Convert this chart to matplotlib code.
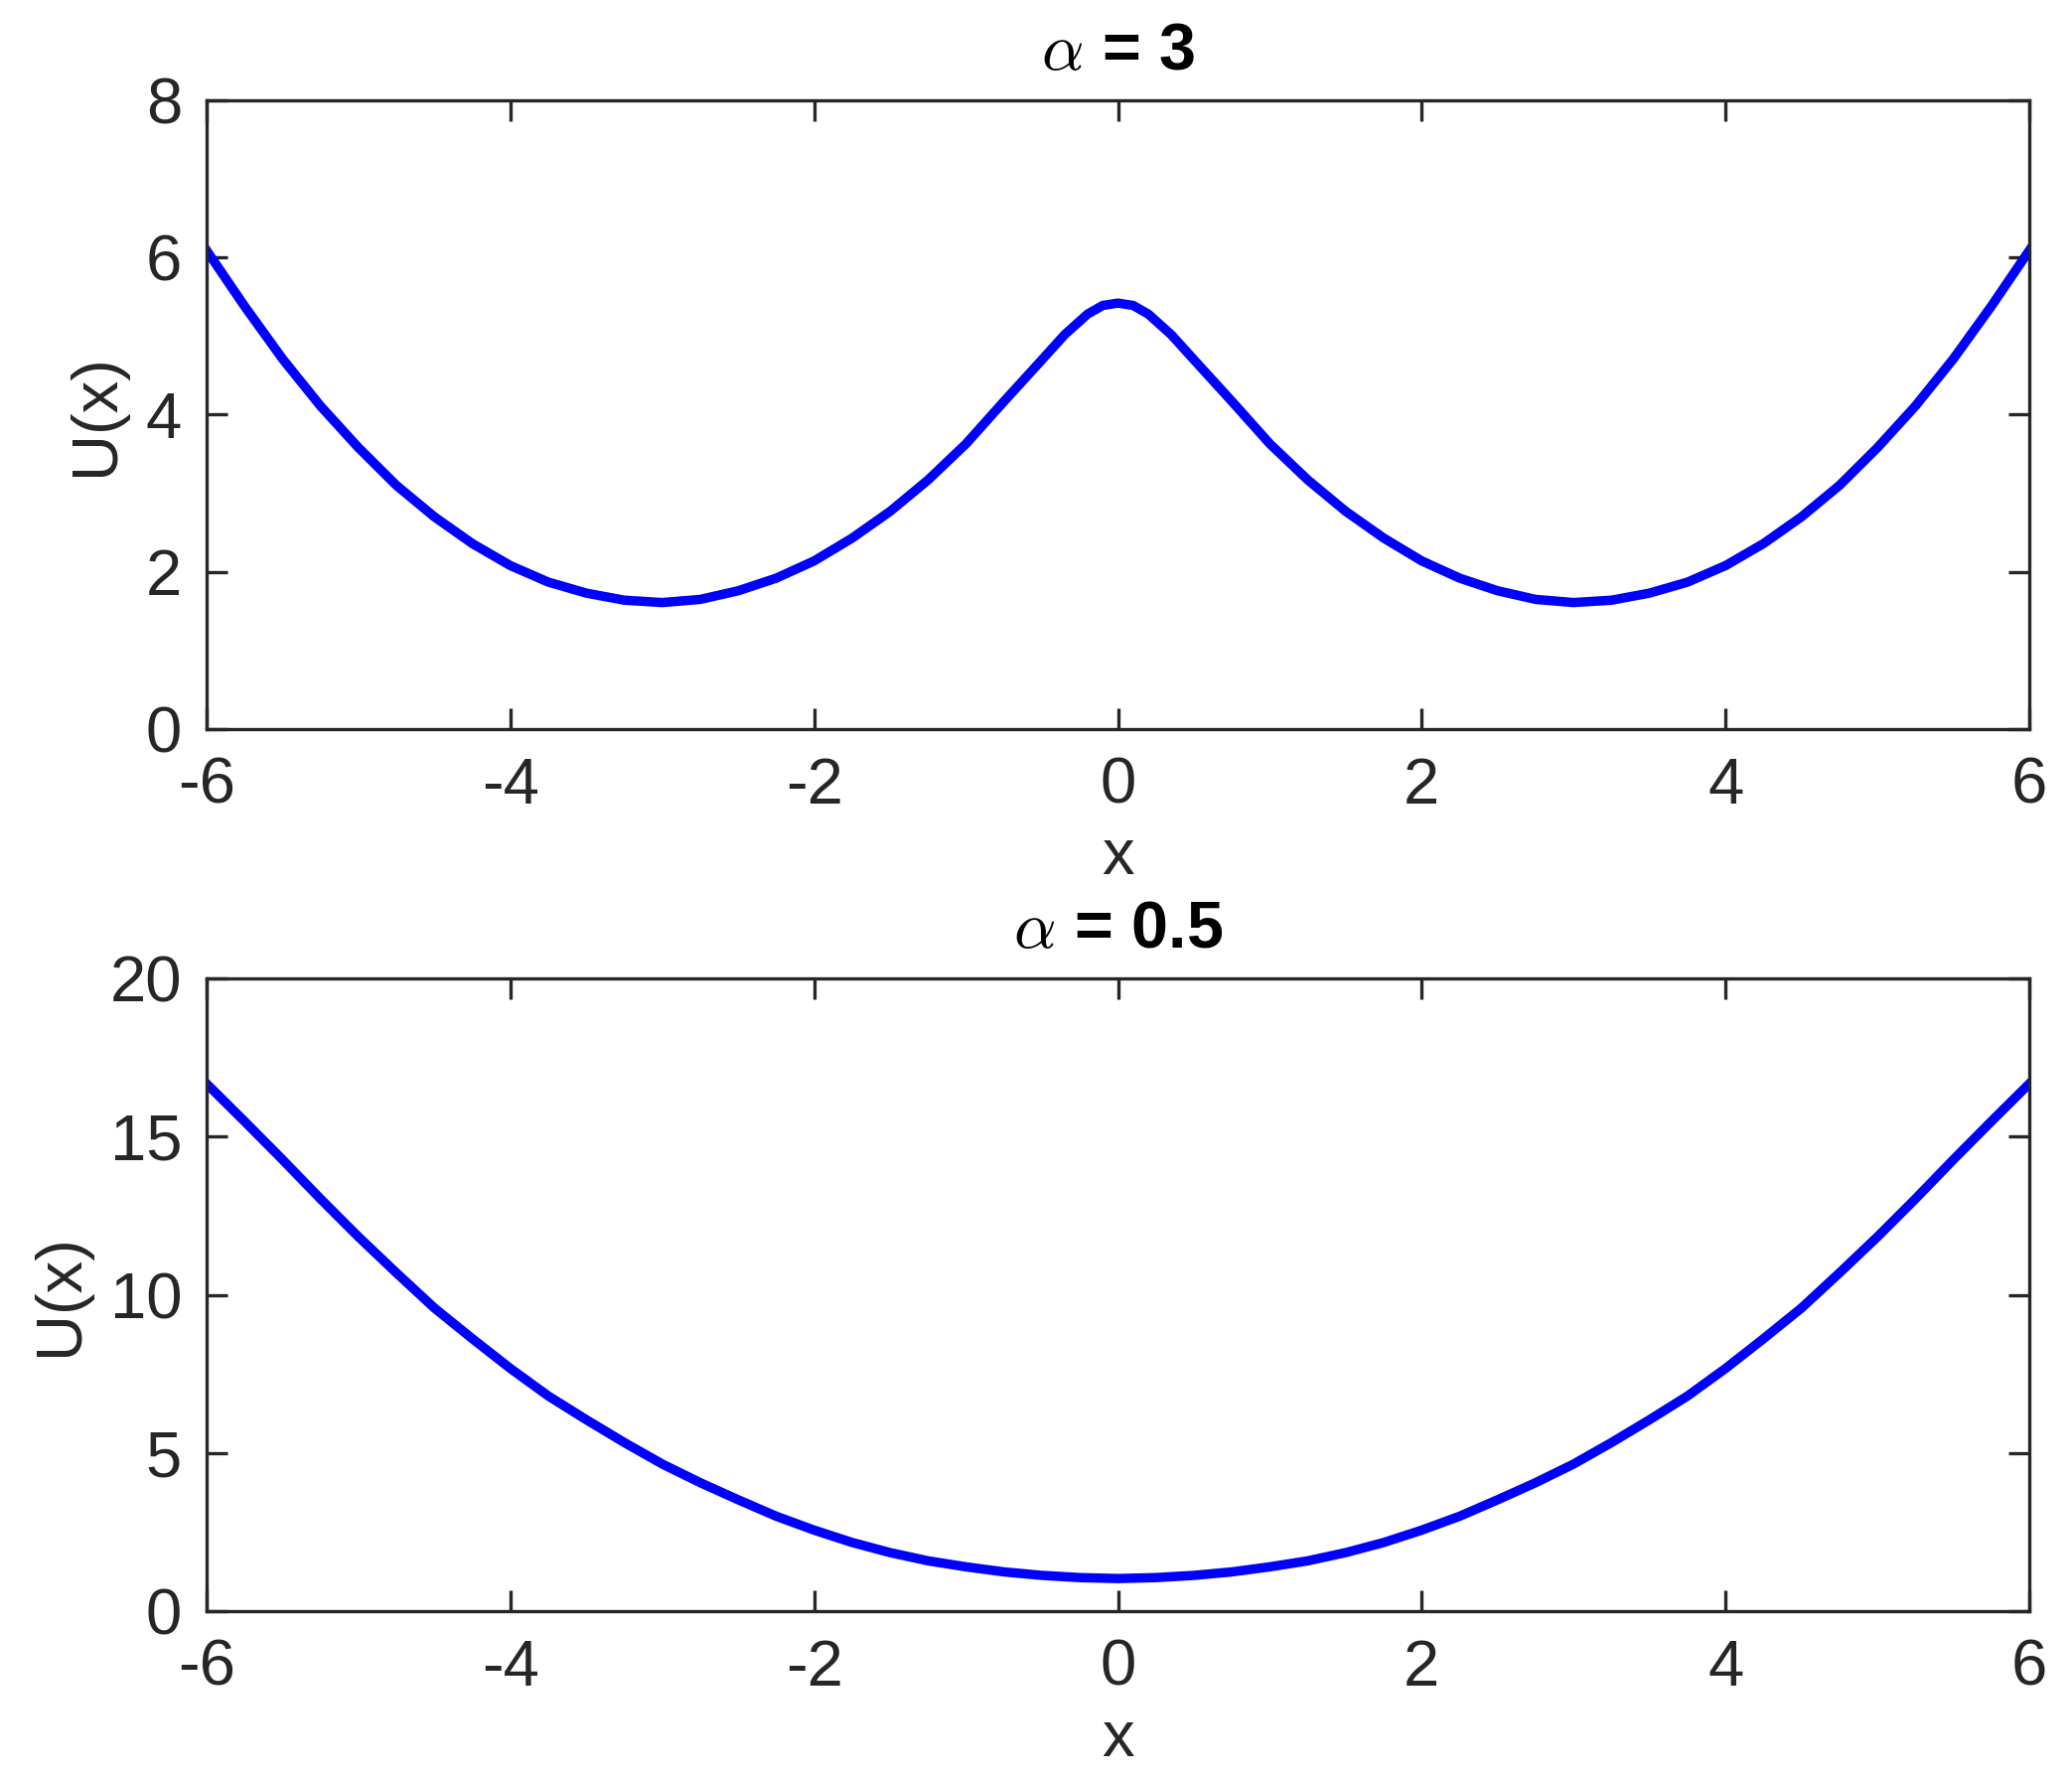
import numpy as np
import matplotlib
matplotlib.use("Agg")
from matplotlib import pyplot as plt

# valores: alpha = 3 (poço duplo)
x_a3 = [-6.0, -5.75, -5.5, -5.25, -5.0, -4.75, -4.5, -4.25, -4.0, -3.75, -3.5, -3.25,
        -3.0, -2.75, -2.5, -2.25, -2.0, -1.75, -1.5, -1.25, -1.0, -0.75, -0.5, -0.35,
        -0.2, -0.1, 0.0, 0.1, 0.2, 0.35, 0.5, 0.75, 1.0, 1.25, 1.5, 1.75, 2.0, 2.25,
        2.5, 2.75, 3.0, 3.25, 3.5, 3.75, 4.0, 4.25, 4.5, 4.75, 5.0, 5.25, 5.5, 5.75, 6.0]
u_a3 = [6.09, 5.38, 4.71, 4.11, 3.58, 3.10, 2.70, 2.36, 2.08, 1.87, 1.73, 1.64,
        1.61, 1.65, 1.76, 1.92, 2.14, 2.43, 2.77, 3.17, 3.63, 4.17, 4.70, 5.02,
        5.28, 5.39, 5.42, 5.39, 5.28, 5.02, 4.70, 4.17, 3.63, 3.17, 2.77, 2.43, 2.14, 1.92,
        1.76, 1.65, 1.61, 1.64, 1.73, 1.87, 2.08, 2.36, 2.70, 3.10, 3.58, 4.11, 4.71, 5.38, 6.09]

# alpha = 0.5 (poço simples)
x_a05 = [-6.0, -5.75, -5.5, -5.25, -5.0, -4.75, -4.5, -4.25, -4.0, -3.75, -3.5, -3.25,
         -3.0, -2.75, -2.5, -2.25, -2.0, -1.75, -1.5, -1.25, -1.0, -0.75, -0.5, -0.25,
         0.0, 0.25, 0.5, 0.75, 1.0, 1.25, 1.5, 1.75, 2.0, 2.25, 2.5, 2.75, 3.0, 3.25,
         3.5, 3.75, 4.0, 4.25, 4.5, 4.75, 5.0, 5.25, 5.5, 5.75, 6.0]
u_a05 = [16.67, 15.48, 14.27, 13.03, 11.83, 10.69, 9.58, 8.61, 7.67, 6.80, 6.05, 5.33,
         4.65, 4.06, 3.52, 3.00, 2.56, 2.17, 1.85, 1.59, 1.40, 1.24, 1.13, 1.06,
         1.03, 1.06, 1.13, 1.24, 1.40, 1.59, 1.85, 2.17, 2.56, 3.00, 3.52, 4.06, 4.65, 5.33,
         6.05, 6.80, 7.67, 8.61, 9.58, 10.69, 11.83, 13.03, 14.27, 15.48, 16.67]

alphas = ["3", "0.5"]
yticks = [[0, 2, 4, 6, 8], [0, 5, 10, 15, 20]]
xticks = [-6, -4, -2, 0, 2, 4, 6]

plt.rcParams['font.family'] = ['Liberation Sans', 'DejaVu Sans']
plt.rcParams['mathtext.fontset'] = 'cm'
cinza = '#262626'
fs = 23.5

W, H = 2086, 1791
fig = plt.figure(figsize=(W / 200, H / 200), dpi=200)

posicoes = [(208, 101, 2043, 734), (208, 985, 2043, 1622)]
dados = [(x_a3, u_a3), (x_a05, u_a05)]

for (l, t, r, b), (x, u), alpha, yt in zip(posicoes, dados, alphas, yticks):
    ax = fig.add_axes([l / W, 1 - b / H, (r - l) / W, (b - t) / H])
    ax.plot(x, u, color=(0, 0, 1), linewidth=3.4, solid_joinstyle='round')
    ax.set_xlim(-6, 6)
    ax.set_ylim(yt[0], yt[-1])
    ax.set_xticks(xticks)
    ax.set_yticks(yt)
    ax.set_xticklabels([str(v) for v in xticks])
    ax.tick_params(direction='in', length=7.5, width=1.2, colors=cinza,
                   labelsize=fs, top=True, right=True, pad=9)
    ax.tick_params(axis='x', pad=10)
    for s in ax.spines.values():
        s.set_linewidth(1.2)
        s.set_color(cinza)
    ax.set_xlabel('x', fontsize=fs, color=cinza, labelpad=4)
    ax.set_ylabel('U(x)', fontsize=fs, color=cinza, labelpad=7)
    ax.set_title(r'$\alpha$ = ' + alpha, fontsize=24, fontweight='bold', pad=11)

fig.savefig('out.png', dpi=200, facecolor='white')
